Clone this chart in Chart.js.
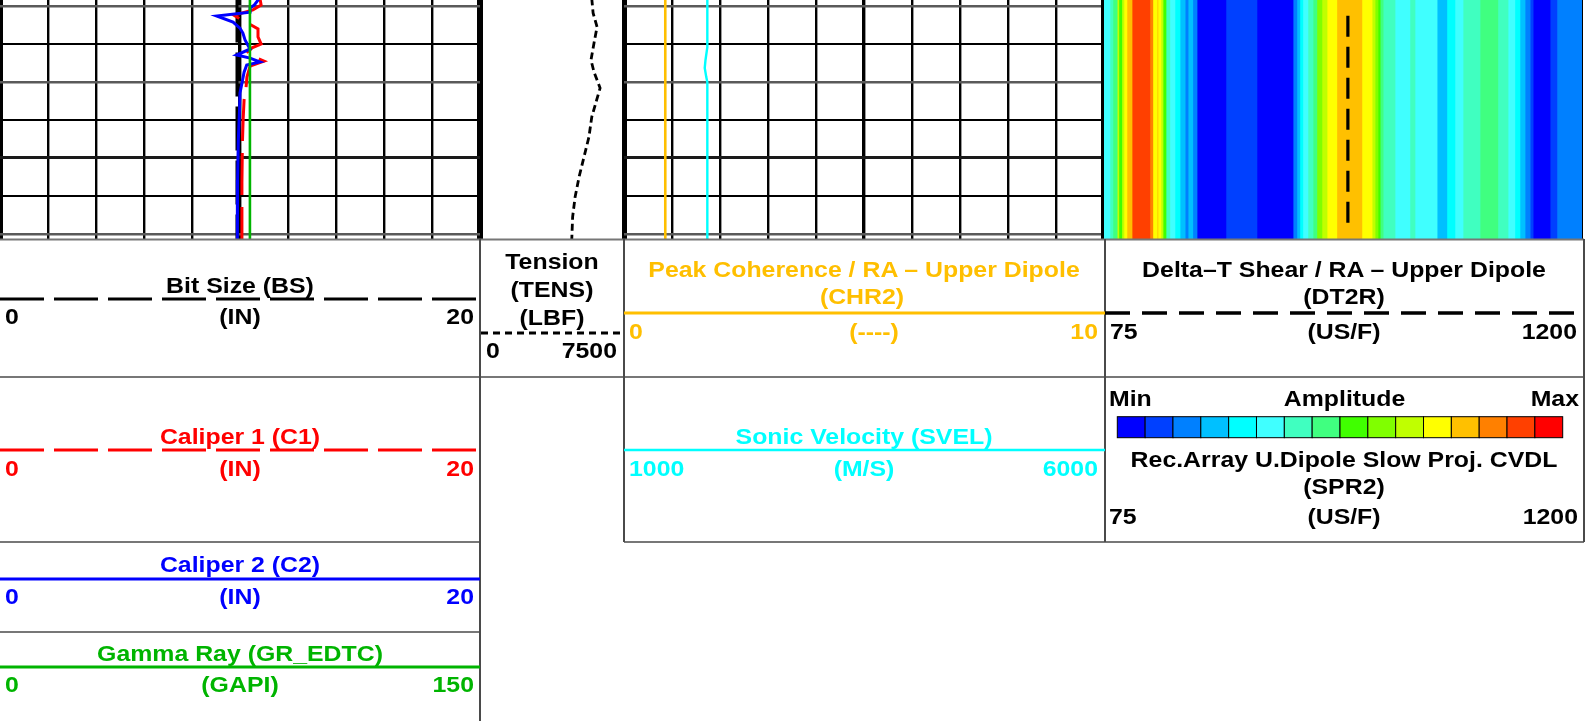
<!DOCTYPE html>
<html>
<head>
<meta charset="utf-8">
<script src="https://cdn.jsdelivr.net/npm/chart.js@4.4.1/dist/chart.umd.min.js"></script>
<style>
  body { margin: 0; width: 1596px; height: 721px; overflow: hidden; background: #fff; position: relative; }
  canvas, svg { position: absolute; top: 0; }
  svg { left: 0; pointer-events: none; }
  svg text { font-family: "Liberation Sans", Arial, sans-serif; font-weight: bold; font-size: 22px; }
</style>
</head>
<body>
<canvas id="trackMain" width="483" height="240" style="left:0"></canvas>
<canvas id="trackTens" width="142" height="240" style="left:481px"></canvas>
<canvas id="trackSonic" width="486" height="240" style="left:621px"></canvas>
<canvas id="trackVdl" width="486" height="240" style="left:1100px"></canvas>
<svg id="header" width="1596" height="721"></svg>
<script>
// Depth window shown (ft) and the depth grid lines.
const depthTop = 1008.4;
const depthBottom = 1071.6;
const gridDepths = [1010, 1020, 1030, 1040, 1050, 1060, 1070];

// Track 1: bit size, calipers, gamma ray.
const bsDepth = [1008.0, 1072.0];
const bsVals = [9.875, 9.875];
const c1Depth = [1008.0, 1009.7, 1011.0, 1012.4, 1013.4, 1014.5, 1016.0, 1018.1, 1020.0, 1021.0, 1022.1,
                 1023.1, 1024.5, 1025.8, 1028.7, 1031.6, 1034.7, 1040.0, 1046.1, 1056.6, 1072.0];
const c1Vals = [10.83, 10.88, 10.54, 9.75, 10.0, 10.33, 10.75, 10.75, 10.88, 10.5, 10.33,
                10.5, 11.0, 10.42, 10.29, 10.25, 10.17, 10.13, 10.1, 10.08, 10.08];
const c2Depth = [1008.0, 1009.7, 1010.5, 1011.6, 1012.6, 1014.2, 1015.8, 1017.1, 1018.9, 1020.3, 1021.3,
                 1022.9, 1023.7, 1024.7, 1025.5, 1027.4, 1030.3, 1032.9, 1037.4, 1045.3, 1055.8, 1072.0];
const c2Vals = [10.8, 10.6, 10.42, 10.42, 9.03, 9.71, 10.0, 10.12, 10.21, 10.33, 10.42,
                9.86, 10.42, 10.83, 10.28, 10.17, 10.08, 10.0, 9.98, 9.93, 9.90, 9.89];
const grDepth = [1008.0, 1040.0, 1072.0];
const grVals = [78.1, 78.1, 78.1];

// Track 2: tension.
const tensDepth = [1008.0, 1011.8, 1015.5, 1019.7, 1024.2, 1027.4, 1031.6, 1034.7, 1039.2, 1044.5, 1048.7,
                   1055.0, 1060.3, 1065.5, 1072.0];
const tensVals = [5850, 5920, 6130, 5970, 5810, 5970, 6290, 6110, 5850, 5700, 5490, 5180, 4970, 4840, 4790];

// Track 3: coherence and sonic velocity.
const chr2Depth = [1008.0, 1072.0];
const chr2Vals = [0.86, 0.86];
const svelDepth = [1008.0, 1020.8, 1024.2, 1026.3, 1028.7, 1030.0, 1072.0];
const svelVals = [1868, 1868, 1849, 1841, 1857, 1868, 1868];

// Track 4: slowness projection VDL (band edges in US/F, amplitude class per band) and DT2R.
const ampColors = ['#0000FF', '#0040FF', '#0080FF', '#00C0FF', '#00FFFF', '#40FFFF', '#40FFC0', '#40FF80',
                   '#40FF00', '#80FF00', '#C0FF00', '#FFFF00', '#FFC000', '#FF8000', '#FF4000', '#FF0000'];
const vdlEdges = [75, 89, 96, 106, 110, 117, 122, 129, 141, 183, 190, 200, 202, 209, 214, 221, 230, 242, 254,
                  266, 273, 284, 294, 362, 435, 520, 529, 536, 543, 555, 567, 576, 588, 600, 623, 682, 706,
                  713, 720, 725, 732, 760, 795, 807, 859, 882, 901, 920, 960, 1002, 1026, 1042, 1054, 1066,
                  1078, 1085, 1125, 1141, 1200];
const vdlAmp = [5, 6, 7, 10, 8, 10, 11, 12, 14, 13, 11, 12, 11, 10, 8, 6, 5, 4, 3, 2, 3, 2, 0, 1, 0, 2, 3, 4,
                5, 6, 7, 9, 10, 11, 12, 11, 10, 9, 8, 7, 6, 5, 6, 5, 3, 4, 5, 6, 7, 6, 5, 4, 3, 2, 1, 0, 1, 2];
const dt2rDepth = [1008.0, 1072.0];
const dt2rVals = [649, 649];

const ORANGE = '#FFBF00', CYAN = '#00FFFF', RED = '#FF0000', BLUE = '#0000FF', GREEN = '#00B400';

function depthGrid(v) {
    if (v == null) return ['rgba(0,0,0,0)', 0];
    if (v % 50 === 0) return ['#1a1a1a', 3];
    if ((v - 1010) % 20 === 0) return ['#5a5a5a', 2.6];
    return ['#000', 2];
}

function depthAxis(showGrid) {
    return {
        type: 'linear', reverse: true, min: depthTop, max: depthBottom,
        ticks: { display: false },
        afterBuildTicks: axis => { axis.ticks = gridDepths.map(v => ({ value: v })); },
        border: { display: false },
        grid: {
            display: showGrid, drawTicks: false,
            color: c => depthGrid(c.tick && c.tick.value)[0],
            lineWidth: c => depthGrid(c.tick && c.tick.value)[1]
        }
    };
}

// Ten-division linear track grid with thick edges and centre line.
function trackAxis(min, max, step, rightWidth) {
    return {
        type: 'linear', min: min, max: max,
        ticks: { display: false, stepSize: step },
        border: { display: false },
        grid: {
            drawTicks: false, color: '#000',
            lineWidth: c => {
                const v = c.tick ? c.tick.value : null;
                if (v === min) return 5;
                if (v === max) return rightWidth;
                if (Math.abs(v - (min + max) / 2) < 1e-6) return 3.4;
                return 2.4;
            }
        }
    };
}

function curve(depths, vals, axis, color, width, dash) {
    return {
        data: depths.map((d, i) => ({ x: vals[i], y: d })),
        xAxisID: axis, yAxisID: 'y',
        showLine: true, borderColor: color, borderWidth: width, borderDash: dash || [],
        pointRadius: 0, tension: 0, fill: false
    };
}

function baseOptions(pad, scales) {
    return {
        responsive: false, animation: false, events: [],
        layout: { padding: { left: pad[0], right: pad[1], top: 0, bottom: 0 } },
        plugins: { legend: { display: false }, tooltip: { enabled: false } },
        scales: scales
    };
}

new Chart(document.getElementById('trackMain'), {
    type: 'scatter',
    data: {
        datasets: [
            curve(grDepth, grVals, 'xgr', GREEN, 2.6),
            curve(c2Depth, c2Vals, 'x', BLUE, 3),
            curve(c1Depth, c1Vals, 'x', RED, 3, [42, 12]),
            curve(bsDepth, bsVals, 'x', '#000', 3, [44, 10])
        ]
    },
    options: baseOptions([0, 3], {
        x: trackAxis(0, 20, 2, 6),
        xgr: { type: 'linear', display: false, min: 0, max: 150 },
        y: depthAxis(true)
    })
});

new Chart(document.getElementById('trackTens'), {
    type: 'scatter',
    data: { datasets: [curve(tensDepth, tensVals, 'x', '#000', 2.8, [7, 4])] },
    options: baseOptions([0, 0], {
        x: { type: 'linear', display: false, min: 0, max: 7500 },
        y: depthAxis(false)
    })
});

new Chart(document.getElementById('trackSonic'), {
    type: 'scatter',
    data: {
        datasets: [
            curve(svelDepth, svelVals, 'xsv', CYAN, 2.4),
            curve(chr2Depth, chr2Vals, 'x', ORANGE, 2.6)
        ]
    },
    options: baseOptions([3, 3], {
        x: trackAxis(0, 10, 1, 4),
        xsv: { type: 'linear', display: false, min: 1000, max: 6000 },
        y: depthAxis(true)
    })
});

const vdlBands = vdlAmp.map((a, i) => ({
    type: 'bar',
    data: [[vdlEdges[i], vdlEdges[i + 1]]],
    backgroundColor: ampColors[a],
    borderWidth: 0, barPercentage: 1, categoryPercentage: 1, grouped: false,
    xAxisID: 'x', yAxisID: 'y', order: 1
}));

new Chart(document.getElementById('trackVdl'), {
    type: 'bar',
    data: {
        labels: ['SPR2'],
        datasets: [{
            type: 'line',
            data: dt2rDepth.map((d, i) => ({ x: dt2rVals[i], y: d })),
            xAxisID: 'x', yAxisID: 'depth', order: 0,
            borderColor: '#000', borderWidth: 3.2, borderDash: [21, 10],
            pointRadius: 0, fill: false
        }].concat(vdlBands)
    },
    options: Object.assign(baseOptions([4, 4], {
        x: {
            type: 'linear', min: 75, max: 1200, z: 1,
            ticks: { display: false, stepSize: 1125 },
            border: { display: false },
            grid: { drawTicks: false, color: '#000', lineWidth: c => (c.index === 0 ? 6 : 2) }
        },
        y: { type: 'category', display: false, offset: true },
        depth: { type: 'linear', display: false, reverse: true, min: depthTop, max: depthBottom }
    }), { indexAxis: 'y' })
});

// ---- header (curve names, scales, legend lines) ----
const svg = document.getElementById('header');
const NS = 'http://www.w3.org/2000/svg';
function el(tag, attrs) {
    const e = document.createElementNS(NS, tag);
    for (const k in attrs) e.setAttribute(k, attrs[k]);
    svg.appendChild(e);
    return e;
}
function label(x, y, str, anchor, color) {
    const t = el('text', { transform: `translate(${x},${y}) scale(1.13,1)`, 'text-anchor': anchor, fill: color || '#000' });
    t.textContent = str;
}
function line(x1, y1, x2, y2, color, w, dash) {
    const a = { x1: x1, y1: y1, x2: x2, y2: y2, stroke: color, 'stroke-width': w };
    if (dash) a['stroke-dasharray'] = dash;
    el('line', a);
}
function scaleRow(l, r, y, lo, unit, hi, color, unitX) {
    label(l + 5, y, lo, 'start', color);
    label(unitX || (l + r) / 2, y, unit, 'middle', color);
    label(r - 6, y, hi, 'end', color);
}

// frame
const FRAME = '#4a4a4a';
line(0, 239.5, 1584, 239.5, '#777', 2);
line(0, 377, 1584, 377, FRAME, 1.5);
line(0, 542, 480, 542, FRAME, 1.5);
line(624, 542, 1584, 542, FRAME, 1.5);
line(0, 632, 480, 632, FRAME, 1.5);
line(480, 239, 480, 721, FRAME, 2);
line(624, 239, 624, 542, FRAME, 2);
line(1105, 239, 1105, 542, FRAME, 2);
line(1584, 239, 1584, 542, FRAME, 2);

// bit size
label(240, 293, 'Bit Size (BS)', 'middle');
line(0, 299, 480, 299, '#000', 3, '44 10');
scaleRow(0, 480, 324, '0', '(IN)', '20');

// tension
label(552, 269, 'Tension', 'middle');
label(552, 297, '(TENS)', 'middle');
label(552, 325, '(LBF)', 'middle');
line(481, 333, 623, 333, '#000', 3, '7 5');
label(486, 358, '0', 'start');
label(617, 358, '7500', 'end');

// peak coherence
label(864, 277, 'Peak Coherence / RA \u2013 Upper Dipole', 'middle', ORANGE);
label(862, 304, '(CHR2)', 'middle', ORANGE);
line(624, 313, 1105, 313, ORANGE, 3);
scaleRow(624, 1104, 339, '0', '(----)', '10', ORANGE, 874);

// delta-T shear
label(1344, 277, 'Delta\u2013T Shear / RA \u2013 Upper Dipole', 'middle');
label(1344, 304, '(DT2R)', 'middle');
line(1105, 313, 1584, 313, '#000', 3.5, '25 12');
scaleRow(1105, 1583, 339, '75', '(US/F)', '1200');

// caliper 1
label(240, 444, 'Caliper 1 (C1)', 'middle', RED);
line(0, 450, 480, 450, RED, 3, '44 10');
scaleRow(0, 480, 476, '0', '(IN)', '20', RED);

// sonic velocity
label(864, 444, 'Sonic Velocity (SVEL)', 'middle', CYAN);
line(624, 450, 1105, 450, CYAN, 2.5);
scaleRow(624, 1104, 476, '1000', '(M/S)', '6000', CYAN);

// VDL amplitude legend
scaleRow(1104, 1585, 406, 'Min', 'Amplitude', 'Max');
const barL = 1117.3, barR = 1562.7, cellW = (barR - barL) / ampColors.length;
ampColors.forEach((c, i) => {
    el('rect', { x: barL + i * cellW, y: 416.7, width: cellW, height: 21, fill: c, stroke: '#000', 'stroke-width': 1 });
});
label(1344, 467, 'Rec.Array U.Dipole Slow Proj. CVDL', 'middle');
label(1344, 494, '(SPR2)', 'middle');
scaleRow(1104, 1584, 524, '75', '(US/F)', '1200');

// caliper 2
label(240, 571.5, 'Caliper 2 (C2)', 'middle', BLUE);
line(0, 579, 480, 579, BLUE, 3);
scaleRow(0, 480, 604, '0', '(IN)', '20', BLUE);

// gamma ray
label(240, 660.5, 'Gamma Ray (GR_EDTC)', 'middle', GREEN);
line(0, 667, 480, 667, GREEN, 3);
scaleRow(0, 480, 692, '0', '(GAPI)', '150', GREEN);
</script>
</body>
</html>
